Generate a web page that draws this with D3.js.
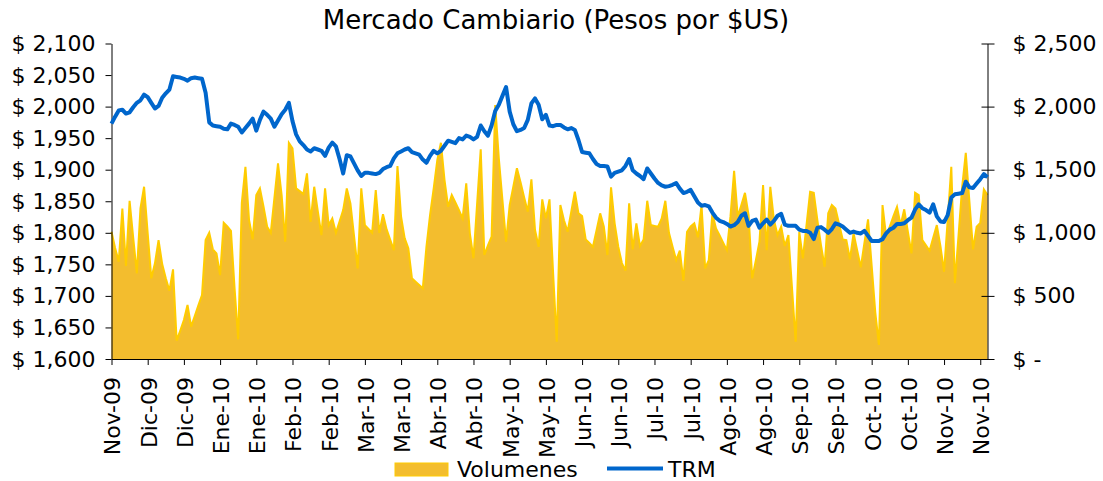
<!DOCTYPE html>
<html><head><meta charset="utf-8">
<script src="https://cdn.jsdelivr.net/npm/d3@7"></script>
<style>
body{margin:0;background:#fff}
svg{display:block}
text{font-family:"DejaVu Sans",Verdana,sans-serif;fill:#000}
</style>
</head><body>
<svg id="c" width="1103" height="481"></svg>
<script>
const tickLabels = ["Nov-09","Dic-09","Dic-09","Ene-10","Ene-10","Feb-10","Feb-10","Mar-10","Mar-10","Abr-10","Abr-10","May-10","May-10","Jun-10","Jun-10","Jul-10","Jul-10","Ago-10","Ago-10","Sep-10","Sep-10","Oct-10","Oct-10","Nov-10","Nov-10"];
const leftTicks = [1600,1650,1700,1750,1800,1850,1900,1950,2000,2050,2100];
const rightTicks = [0,500,1000,1500,2000,2500];
const seriesNames = ["Volumenes","TRM"];

const trm = [
1973,1984,1994,1995,1989,1991,1999,2006,2010,2019,
2015,2006,1997,2001,2014,2021,2027,2048,2047,2046,
2044,2041,2045,2046,2045,2044,2022,1975,1970,1969,
1968,1965,1964,1973,1971,1968,1959,1966,1973,1981,
1962,1979,1992,1987,1981,1968,1978,1988,1995,2006,
1977,1956,1945,1939,1932,1929,1934,1932,1930,1922,
1935,1943,1937,1917,1894,1923,1921,1910,1899,1890,
1895,1895,1894,1893,1895,1901,1904,1906,1918,1926,
1929,1932,1934,1928,1926,1924,1916,1911,1922,1930,
1926,1930,1938,1946,1944,1942,1950,1948,1954,1952,
1948,1952,1970,1961,1954,1970,1993,2003,2017,2031,
1992,1972,1961,1963,1966,1979,2005,2013,2003,1980,
1987,1970,1969,1971,1971,1967,1964,1966,1963,1947,
1928,1927,1926,1917,1909,1906,1906,1905,1889,1895,
1897,1899,1906,1917,1899,1894,1890,1885,1902,1894,
1886,1879,1875,1873,1874,1876,1879,1870,1863,1865,
1868,1858,1848,1843,1844,1842,1832,1824,1819,1817,
1814,1810,1812,1817,1827,1831,1811,1819,1821,1808,
1815,1821,1813,1819,1827,1830,1813,1811,1811,1811,
1805,1803,1803,1800,1790,1808,1809,1805,1800,1806,
1815,1813,1810,1805,1800,1802,1800,1799,1803,1795,
1787,1787,1787,1790,1799,1805,1808,1814,1814,1815,
1820,1824,1837,1845,1839,1836,1832,1845,1826,1818,
1817,1828,1856,1861,1862,1863,1881,1872,1871,1878,
1885,1893,1888
];

const volumenes = [
1008,880,771,1193,737,1254,960,679,1193,1365,
996,639,758,942,752,640,541,710,145,225,
309,428,256,340,425,507,942,1000,869,837,
665,1079,1050,1016,560,156,1238,1523,1101,948,
1299,1352,1206,1048,1000,1275,1550,1299,929,1713,
1669,1352,1330,1307,1471,1087,1365,1170,982,1352,
1061,1114,1000,1090,1180,1352,1233,975,718,1352,
1061,1030,1000,1338,1000,1148,1027,945,863,1529,
1127,956,877,639,613,587,560,889,1140,1350,
1575,1713,1418,1206,1299,1240,1180,1114,1392,996,
798,1230,1661,824,900,969,2012,1590,1260,929,
1220,1365,1511,1400,1280,1167,1423,1022,889,1265,
1114,1265,679,137,1220,1100,1008,1165,1325,1154,
1132,948,920,889,1020,1154,1050,824,1360,1075,
890,760,700,1233,869,1075,895,948,1254,1061,
1055,1048,1114,1254,1000,890,784,858,620,1008,
1050,1075,964,1220,718,784,1154,1035,980,920,
863,1132,1491,1127,1220,1317,1140,639,780,929,
1378,863,1365,1101,982,1048,895,982,560,137,
1008,798,1060,1325,1317,1100,903,731,1154,1220,
1193,1070,948,942,790,996,860,726,920,1106,
740,370,111,1220,969,1050,1130,1206,1061,1186,
1010,837,1317,1299,942,900,858,960,1061,895,
691,1100,1523,600,980,1365,1634,1250,869,1048,
1079,1344,1300
];

const m = {l:111.5, r:987.5, t:43.5, b:359};
const FONT = 22;
const svg = d3.select("#c");

const x = d3.scaleLinear().domain([0, trm.length - 1]).range([m.l, m.r]);
const yL = d3.scaleLinear().domain([1600, 2100]).range([m.b, m.t]);
const yR = d3.scaleLinear().domain([0, 2500]).range([m.b, m.t]);

// Title
svg.append("text").attr("x", 556).attr("y", 29).attr("text-anchor", "middle")
  .attr("font-size", 26).text("Mercado Cambiario (Pesos por $US)");

// Area (volumes, right axis)
svg.append("path").datum(volumenes)
  .attr("d", d3.area().x((d, i) => x(i)).y0(yR(0)).y1(d => yR(d)))
  .attr("fill", "#F3BD2E");
svg.append("path").datum(volumenes)
  .attr("d", d3.line().x((d, i) => x(i)).y(d => yR(d)))
  .attr("fill", "none").attr("stroke", "#FFCC00").attr("stroke-width", 2)
  .attr("stroke-linejoin", "miter");

const fmt = d3.format(",");
// Left axis
const gL = svg.append("g").attr("transform", `translate(${m.l},0)`)
  .call(d3.axisLeft(yL).tickValues(leftTicks).tickSizeInner(6).tickSizeOuter(0).tickPadding(10)
    .tickFormat(v => "$ " + fmt(v)));
// Right axis
const gR = svg.append("g").attr("transform", `translate(${m.r},0)`)
  .call(d3.axisRight(yR).tickValues(rightTicks).tickSizeInner(7).tickSizeOuter(0).tickPadding(18)
    .tickFormat(v => v === 0 ? "$ -" : "$ " + fmt(v)));
gR.selectAll(".tick line").attr("x1", -6).attr("x2", 7);
// Bottom axis
const gB = svg.append("g").attr("transform", `translate(0,${m.b})`)
  .call(d3.axisBottom(x).tickValues(d3.range(0, tickLabels.length * 10, 10)).tickSizeInner(6).tickSizeOuter(0)
    .tickFormat((d, i) => tickLabels[i]));
gB.selectAll(".tick text").attr("transform", "rotate(-90)").attr("text-anchor", "end")
  .attr("x", -18).attr("y", 0).attr("dy", "0.38em");

[gL, gR, gB].forEach(g => {
  g.attr("font-family", null).attr("font-size", null);
  g.selectAll("text").attr("font-size", FONT).attr("fill", "#000");
  g.selectAll("line").attr("stroke", "#000");
  g.select(".domain").attr("stroke", "#000");
});

// TRM line (left axis)
svg.append("path").datum(trm)
  .attr("d", d3.line().x((d, i) => x(i)).y(d => yL(d)))
  .attr("fill", "none").attr("stroke", "#0066CC").attr("stroke-width", 4)
  .attr("stroke-linejoin", "round");

// Legend
const lg = svg.append("g");
lg.append("rect").attr("x", 395).attr("y", 463).attr("width", 53).attr("height", 13)
  .attr("fill", "#F3BD2E").attr("stroke", "#FFCC00").attr("stroke-width", 1);
lg.append("text").attr("x", 457).attr("y", 477).attr("font-size", FONT).text(seriesNames[0]);
lg.append("line").attr("x1", 607).attr("x2", 663).attr("y1", 468.5).attr("y2", 468.5)
  .attr("stroke", "#0066CC").attr("stroke-width", 4);
lg.append("text").attr("x", 668).attr("y", 477).attr("font-size", FONT).text(seriesNames[1]);
</script>
</body></html>
